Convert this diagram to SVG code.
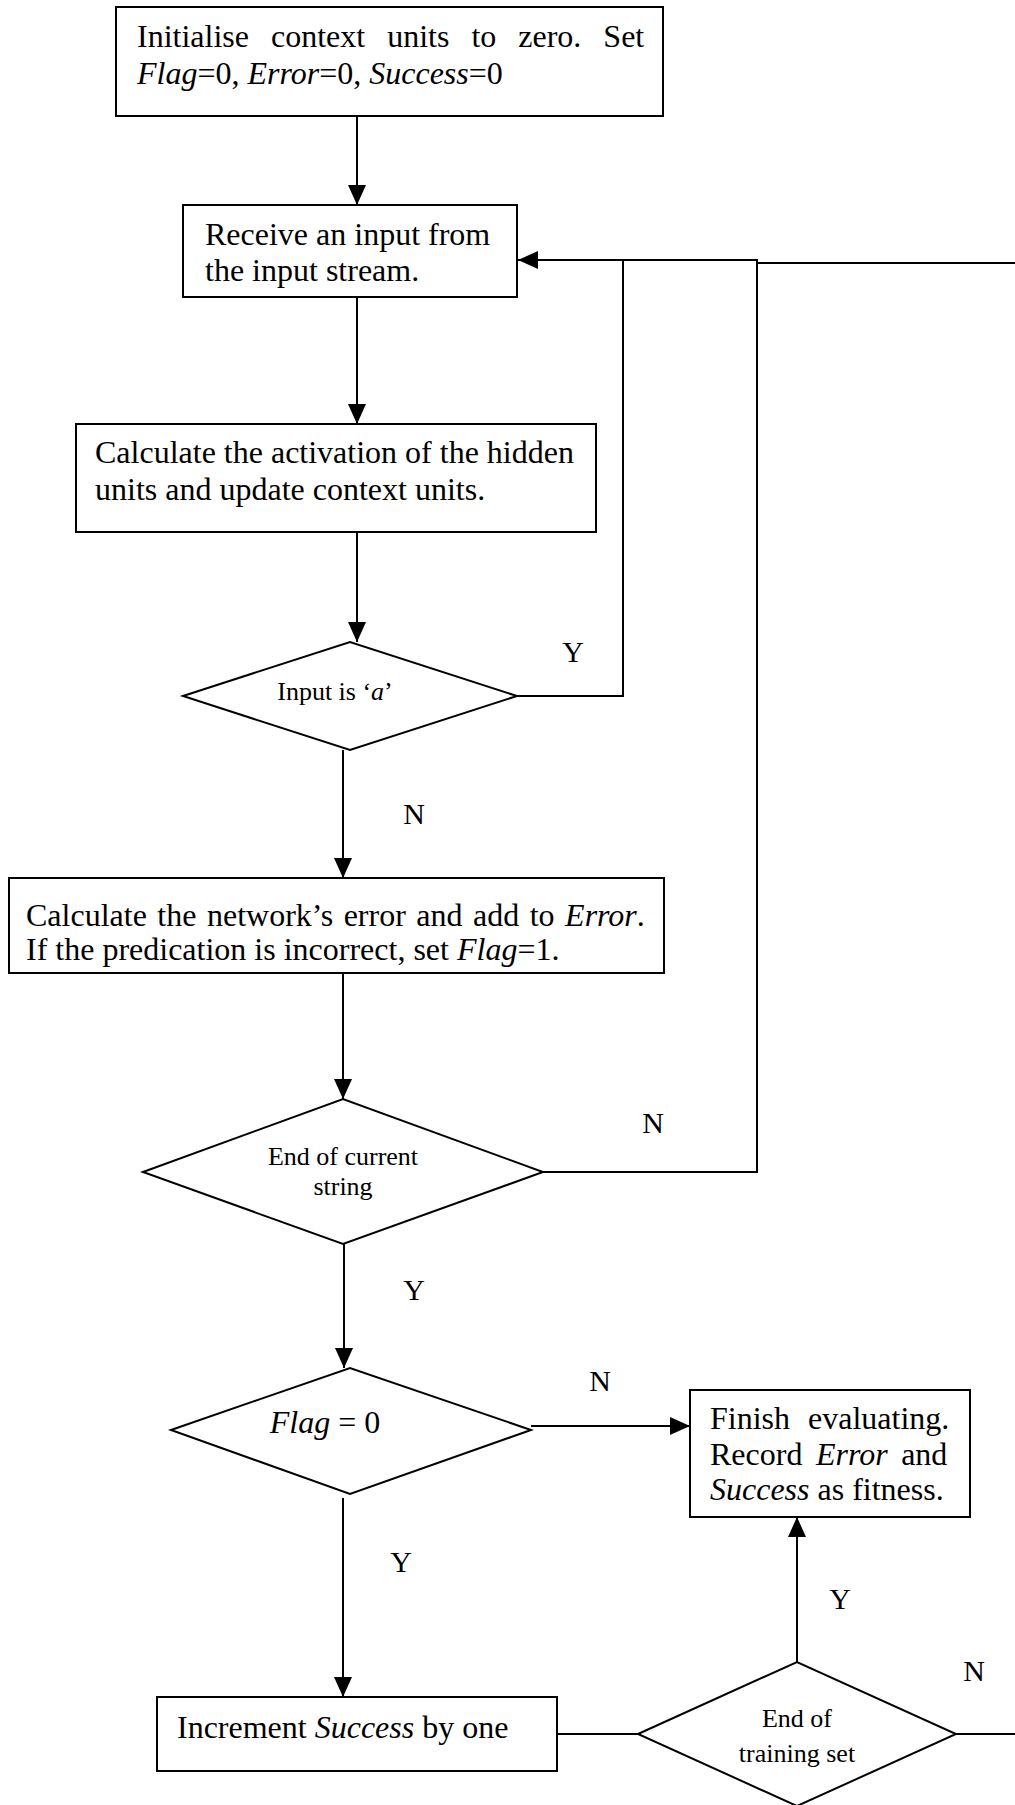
<svg xmlns="http://www.w3.org/2000/svg" width="1015" height="1805" viewBox="0 0 1015 1805">
<style>
.box{fill:#fff;stroke:#000;stroke-width:2}
.ln{fill:none;stroke:#000;stroke-width:2}
.t{font-family:"Liberation Serif","Times New Roman",serif;font-size:32px;fill:#000}
.s{font-family:"Liberation Serif","Times New Roman",serif;font-size:26px;fill:#000}
.lb{font-family:"Liberation Serif","Times New Roman",serif;font-size:30px;fill:#000;text-anchor:middle}
.i{font-style:italic}
</style>
<defs>
<marker id="ah" markerUnits="userSpaceOnUse" markerWidth="20" markerHeight="18" refX="20" refY="9" orient="auto" viewBox="0 0 20 18">
<path d="M0,0 L20,9 L0,18 z" fill="#000"/>
</marker>
</defs>
<rect width="1015" height="1805" fill="#fff"/>
<g id="connectors">
<line class="ln" x1="357" y1="116" x2="357" y2="205" marker-end="url(#ah)"/>
<line class="ln" x1="357" y1="297" x2="357" y2="424" marker-end="url(#ah)"/>
<line class="ln" x1="357" y1="532" x2="357" y2="642" marker-end="url(#ah)"/>
<polyline class="ln" points="517,696 623,696 623,260"/>
<line class="ln" x1="757" y1="260" x2="518" y2="260" marker-end="url(#ah)"/>
<line class="ln" x1="757" y1="263" x2="1015" y2="263"/>
<polyline class="ln" points="543,1172 757,1172 757,259"/>
<line class="ln" x1="343" y1="750" x2="343" y2="878" marker-end="url(#ah)"/>
<line class="ln" x1="343" y1="973" x2="343" y2="1099" marker-end="url(#ah)"/>
<line class="ln" x1="344" y1="1244" x2="344" y2="1368" marker-end="url(#ah)"/>
<line class="ln" x1="531" y1="1426" x2="690" y2="1426" marker-end="url(#ah)"/>
<line class="ln" x1="343" y1="1498" x2="343" y2="1697" marker-end="url(#ah)"/>
<line class="ln" x1="557" y1="1734" x2="638" y2="1734"/>
<line class="ln" x1="797" y1="1662" x2="797" y2="1517" marker-end="url(#ah)"/>
<line class="ln" x1="956" y1="1734" x2="1015" y2="1734"/>
<text class="lb" x="573" y="662">Y</text>
<text class="lb" x="414" y="824">N</text>
<text class="lb" x="653" y="1133">N</text>
<text class="lb" x="414" y="1300">Y</text>
<text class="lb" x="600" y="1391">N</text>
<text class="lb" x="401" y="1572">Y</text>
<text class="lb" x="840" y="1609">Y</text>
<text class="lb" x="974" y="1681">N</text>
</g>
<g id="init">
<rect class="box" x="116" y="7" width="547" height="109"/>
<text class="t" x="137" y="47" word-spacing="14">Initialise context units to zero. Set</text>
<text class="t" x="137" y="84"><tspan class="i">Flag</tspan>=0, <tspan class="i">Error</tspan>=0, <tspan class="i">Success</tspan>=0</text>
</g>
<g id="receive">
<rect class="box" x="183" y="205" width="334" height="92"/>
<text class="t" x="205" y="245">Receive an input from</text>
<text class="t" x="205" y="281">the input stream.</text>
</g>
<g id="activation">
<rect class="box" x="76" y="424" width="520" height="108"/>
<text class="t" x="95" y="463">Calculate the activation of the hidden</text>
<text class="t" x="95" y="500">units and update context units.</text>
</g>
<g id="input-a">
<polygon class="box" points="183,696 350,642 517,696 350,750"/>
<text class="s" x="335" y="700" text-anchor="middle">Input is ‘<tspan class="i">a</tspan>’</text>
</g>
<g id="error">
<rect class="box" x="9" y="878" width="655" height="95"/>
<text class="t" x="26" y="926" word-spacing="2.5">Calculate the network’s error and add to <tspan class="i">Error</tspan>.</text>
<text class="t" x="26" y="960">If the predication is incorrect, set <tspan class="i">Flag</tspan>=1.</text>
</g>
<g id="end-string">
<polygon class="box" points="143,1172 343,1099 543,1172 343,1244"/>
<text class="s" x="343" y="1165" text-anchor="middle">End of current</text>
<text class="s" x="343" y="1195" text-anchor="middle">string</text>
</g>
<g id="flag">
<polygon class="box" points="171,1430 350,1368 531,1430 350,1494"/>
<text class="t" x="325" y="1433" text-anchor="middle"><tspan class="i">Flag</tspan> = 0</text>
</g>
<g id="finish">
<rect class="box" x="690" y="1390" width="280" height="127"/>
<text class="t" x="710" y="1429" word-spacing="10">Finish evaluating.</text>
<text class="t" x="710" y="1465" word-spacing="5.5">Record <tspan class="i">Error</tspan> and</text>
<text class="t" x="710" y="1500"><tspan class="i">Success</tspan> as fitness.</text>
</g>
<g id="increment">
<rect class="box" x="157" y="1697" width="400" height="74"/>
<text class="t" x="177" y="1738">Increment <tspan class="i">Success</tspan> by one</text>
</g>
<g id="end-training">
<polygon class="box" points="638,1734 797,1662 956,1734 797,1806"/>
<text class="s" x="797" y="1727" text-anchor="middle">End of</text>
<text class="s" x="797" y="1762" text-anchor="middle">training set</text>
</g>
</svg>
